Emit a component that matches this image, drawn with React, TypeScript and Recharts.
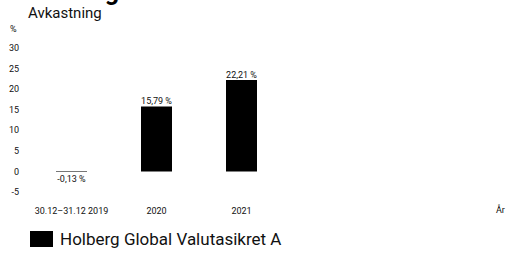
import { BarChart, Bar, XAxis, YAxis, LabelList } from 'recharts';

const categories = ['30.12–31.12 2019', '2020', '2021'];
const returns = [-0.13, 15.79, 22.21];
const yTicks = [-5, 0, 5, 10, 15, 20, 25, 30];
const seriesName = 'Holberg Global Valutasikret A';

const font = 'Roboto, "Noto Sans", sans-serif';

// value label above positive bars, below negative ones, never wrapped
const renderValueLabel = (props: any) => {
    const { x, y, width, height, value } = props;
    const v = Number(value);
    const top = Math.min(y, y + height);
    const bottom = Math.max(y, y + height);
    const cx = x + width / 2;
    const ty = v >= 0 ? top - 2 : bottom + 10;
    return (
        <text x={cx} y={ty} textAnchor="middle" fontSize={9} fill="#111" fontFamily={font}>
            {`${v.toFixed(2).replace('.', ',')} %`}
        </text>
    );
};

export default function App() {
    const data = categories.map((name, i) => ({ name, value: returns[i] }));

    return (
        <div style={{ position: 'absolute', left: 0, top: 0, width: 508, height: 255, background: '#fff', fontFamily: font, overflow: 'hidden' }}>
            {/* title is mostly cropped off at the top in the original */}
            <div style={{ position: 'absolute', left: 30, top: -23, fontSize: 25, fontWeight: 700, color: '#000', whiteSpace: 'nowrap' }}>
                {seriesName}
            </div>
            <div style={{ position: 'absolute', left: 28, top: 4, fontSize: 15, color: '#111' }}>Avkastning</div>
            <div style={{ position: 'absolute', left: 10, top: 24, fontSize: 9, color: '#111' }}>%</div>
            <BarChart
                width={508}
                height={230}
                data={data}
                margin={{ top: 48, right: 8, bottom: 8, left: 0 }}
                style={{ position: 'absolute', left: 0, top: 0 }}
            >
                <XAxis
                    dataKey="name"
                    axisLine={false}
                    tickLine={false}
                    tickSize={0}
                    tickMargin={16}
                    height={30}
                    padding={{ left: 0, right: 216 }}
                    interval={0}
                    tick={{ fontSize: 9, fill: '#111', fontFamily: font }}
                />
                <YAxis
                    domain={[-5, 30]}
                    ticks={yTicks}
                    axisLine={false}
                    tickLine={false}
                    tickSize={0}
                    tickMargin={10}
                    width={29}
                    interval={0}
                    tick={{ fontSize: 9, fill: '#111', fontFamily: font }}
                />
                <Bar dataKey="value" fill="#000" barSize={31} isAnimationActive={false}>
                    <LabelList dataKey="value" content={renderValueLabel} />
                </Bar>
            </BarChart>
            <div style={{ position: 'absolute', left: 496, top: 205, fontSize: 9, color: '#111' }}>År</div>
            <div style={{ position: 'absolute', left: 30, top: 229, display: 'flex', alignItems: 'center', height: 20 }}>
                <div style={{ width: 23, height: 16, background: '#000' }} />
                <span style={{ marginLeft: 7, fontSize: 17, color: '#111', whiteSpace: 'nowrap' }}>{seriesName}</span>
            </div>
        </div>
    );
}
